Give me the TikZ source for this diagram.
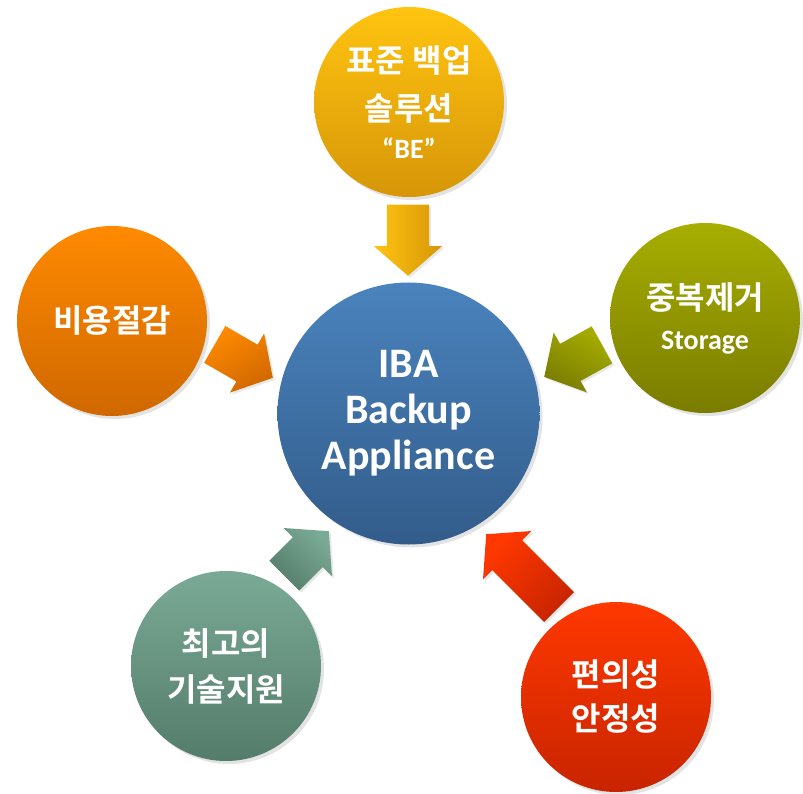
\documentclass[tikz,border=0pt]{standalone}
\usepackage{fontspec}
\setmainfont{Carlito}
\newfontfamily\krfont{Noto Sans CJK KR}[BoldFont={Noto Sans CJK KR Bold}]
\usetikzlibrary{shapes.arrows, shadows}

\definecolor{ibatop}{RGB}{74,131,189}
\definecolor{ibabot}{RGB}{50,92,138}
\definecolor{stdtop}{RGB}{255,196,16}
\definecolor{stdbot}{RGB}{214,150,8}
\definecolor{costtop}{RGB}{255,138,0}
\definecolor{costbot}{RGB}{208,104,0}
\definecolor{deduptop}{RGB}{166,174,0}
\definecolor{dedupbot}{RGB}{122,124,0}
\definecolor{supptop}{RGB}{122,170,150}
\definecolor{suppbot}{RGB}{84,124,106}
\definecolor{easetop}{RGB}{255,56,0}
\definecolor{easebot}{RGB}{200,36,0}

\newcommand{\entext}[1]{{\rmfamily\bfseries\fontsize{28}{34}\selectfont #1}}

\tikzset{
  bubble/.style={circle, minimum size=190pt, inner sep=0pt, text=white, align=center,
    font=\krfont\bfseries\fontsize{32}{46}\selectfont,
    drop shadow={opacity=0.22, shadow xshift=3pt, shadow yshift=-3pt}},
  feed/.style={single arrow, anchor=tip, minimum height=#1, inner xsep=0pt, inner ysep=21pt,
    single arrow head extend=13pt, single arrow tip angle=98,
    drop shadow={opacity=0.18, shadow xshift=2pt, shadow yshift=-2pt}},
}

\begin{document}
\begin{tikzpicture}[x=1pt, y=-1pt]
  \useasboundingbox (0,0) rectangle (803,794);

  % centre
  \node[bubble, minimum size=262pt, top color=ibatop, bottom color=ibabot,
        font=\rmfamily\bfseries\fontsize{42}{46}\selectfont] (iba) at (408.5,413.5)
        {IBA\\Backup\\Appliance};

  % satellites
  \node[bubble, top color=stdtop, bottom color=stdbot] (std) at (409,102)
        {표준 백업\\[2pt]솔루션\\[-8pt]\entext{“BE”}};
  \node[bubble, top color=costtop, bottom color=costbot] (cost) at (112,321) {비용절감};
  \node[bubble, top color=deduptop, bottom color=dedupbot] (dedup) at (705,318)
        {중복제거\\[-6pt]\entext{Storage}};
  \node[bubble, top color=supptop, bottom color=suppbot] (support) at (226,666)
        {최고의\\기술지원};
  \node[bubble, top color=easetop, bottom color=easebot] (ease) at (616,697)
        {편의성\\[-2pt]안정성};

  % arrows into the centre (placed by their tips)
  \node[feed=71pt, rotate=-90, top color=stdtop, bottom color=stdbot, shading angle=90]
        (std-arr) at (408,276) {};
  \node[feed=67pt, rotate=-30, top color=costtop, bottom color=costbot, shading angle=30]
        (cost-arr) at (273,378) {};
  \node[feed=66pt, rotate=209, top color=dedupbot, bottom color=deduptop, shading angle=-209]
        (dedup-arr) at (544,377) {};
  \node[feed=63pt, rotate=45, top color=supptop, bottom color=suppbot, shading angle=-45]
        (support-arr) at (329,531) {};
  \node[feed=103pt, rotate=135, top color=easebot, bottom color=easetop, shading angle=-135]
        (ease-arr) at (486,534) {};
\end{tikzpicture}
\end{document}
